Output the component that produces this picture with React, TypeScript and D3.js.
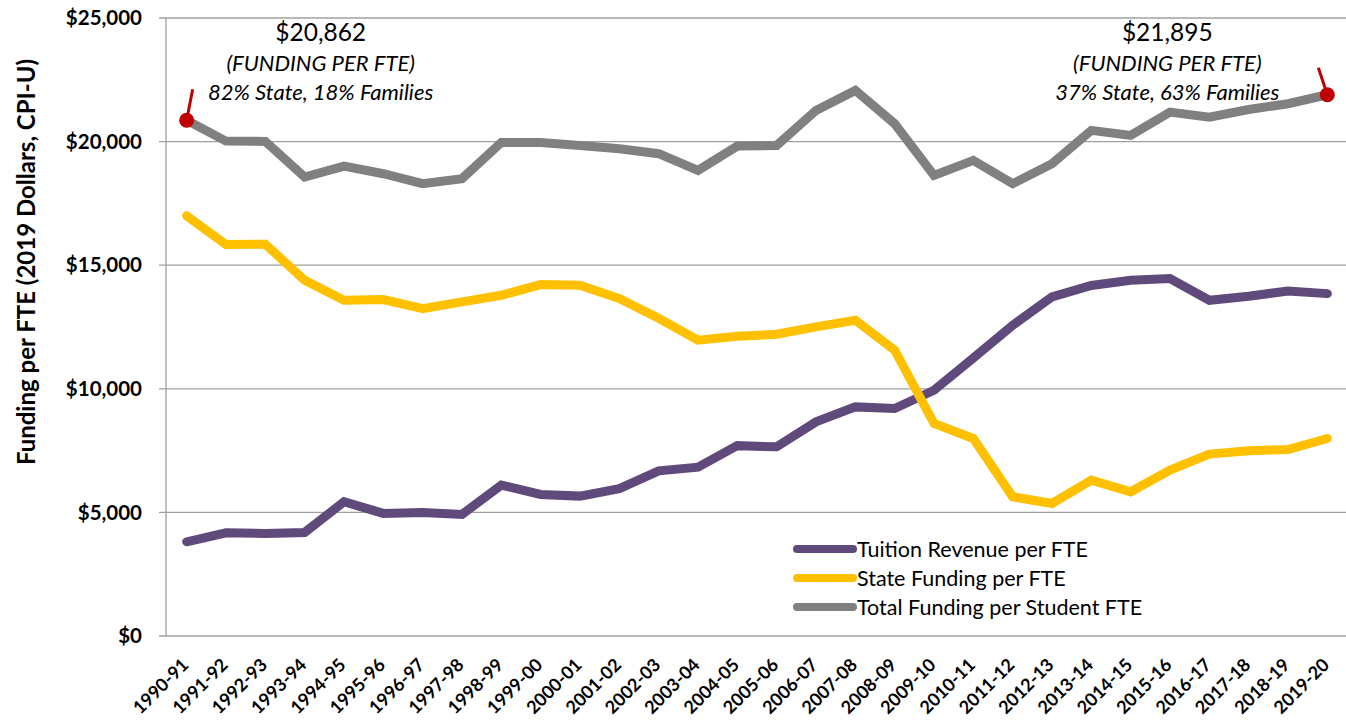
import React from 'react';
import { scaleLinear, scalePoint, line, format } from 'd3';

// school years on the x axis
const years = [
  '1990-91', '1991-92', '1992-93', '1993-94', '1994-95', '1995-96', '1996-97', '1997-98',
  '1998-99', '1999-00', '2000-01', '2001-02', '2002-03', '2003-04', '2004-05', '2005-06',
  '2006-07', '2007-08', '2008-09', '2009-10', '2010-11', '2011-12', '2012-13', '2013-14',
  '2014-15', '2015-16', '2016-17', '2017-18', '2018-19', '2019-20',
];

const tuition = [
  3812, 4176, 4150, 4190, 5430, 4960, 5000, 4920, 6103, 5727, 5659, 5960, 6680, 6831, 7700,
  7653, 8662, 9268, 9204, 9943, 11250, 12571, 13715, 14180, 14390, 14457, 13581, 13743, 13957, 13850,
];
const stateFunding = [
  17000, 15833, 15850, 14390, 13580, 13610, 13245, 13515, 13783, 14215, 14188, 13650, 12850, 11964,
  12126, 12207, 12503, 12773, 11560, 8597, 7990, 5632, 5363, 6305, 5834, 6710, 7357, 7490, 7545, 7990,
];
const total = [
  20862, 20020, 20008, 18565, 19010, 18700, 18298, 18500, 19968, 19968, 19846, 19713, 19510, 18836,
  19818, 19846, 21261, 22070, 20723, 18634, 19240, 18298, 19106, 20453, 20251, 21193, 20990, 21300,
  21532, 21895,
];

const yTicks = [0, 5000, 10000, 15000, 20000, 25000];

const seriesNames = ['Tuition Revenue per FTE', 'State Funding per FTE', 'Total Funding per Student FTE'];
const seriesColors = ['#604A7B', '#FFC000', '#808080'];

const FONT = 'Lato, "Open Sans", sans-serif';

export default function App() {
  const W = 1346;
  const H = 725;
  const left = 167;
  const right = 1347;
  const top = 18;
  const bottom = 636;

  const x = scalePoint<string>().domain(years).range([left, right]).padding(0.5);
  const y = scaleLinear().domain([0, 25000]).range([bottom, top]);
  const money = format('$,');

  const mkLine = line<number>()
    .x((d, i) => x(years[i]) as number)
    .y((d) => y(d));

  const series = [tuition, stateFunding, total];

  const firstX = x(years[0]) as number;
  const lastX = x(years[years.length - 1]) as number;
  const firstY = y(total[0]);
  const lastY = y(total[total.length - 1]);

  return (
    <>
      <style>{`body{margin:0}`}</style>
      <svg width={W} height={H} style={{ display: 'block', fontFamily: FONT }}>
        {/* gridlines + y ticks */}
        {yTicks.map((t) => (
          <g key={t}>
            <line x1={left - 8} x2={W} y1={y(t)} y2={y(t)} stroke="#A0A0A0" strokeWidth={1.3} />
            <text x={142} y={y(t)} dy="0.35em" textAnchor="end" fontWeight="bold" fontSize={20.5}>
              {money(t)}
            </text>
          </g>
        ))}
        <line x1={left - 1} x2={left - 1} y1={top} y2={bottom} stroke="#A0A0A0" strokeWidth={1.3} />

        {/* y title */}
        <text
          transform={`translate(35,262) rotate(-90)`}
          textAnchor="middle"
          fontWeight="bold"
          fontSize={24}
        >
          Funding per FTE (2019 Dollars, CPI-U)
        </text>

        {/* x labels */}
        {years.map((yr) => (
          <text
            key={yr}
            transform={`translate(${(x(yr) as number) + 3},${bottom + 30}) rotate(-45)`}
            textAnchor="end"
            fontWeight="bold"
            fontSize={18}
          >
            {yr}
          </text>
        ))}

        {/* lines */}
        {series.map((s, i) => (
          <path
            key={i}
            d={mkLine(s) || ''}
            fill="none"
            stroke={seriesColors[i]}
            strokeWidth={9}
            strokeLinejoin="miter"
            strokeLinecap="round"
          />
        ))}

        {/* red callouts */}
        <line x1={firstX} y1={firstY} x2={firstX + 6} y2={firstY - 31} stroke="#C00000" strokeWidth={3} />
        <circle cx={firstX} cy={firstY} r={7.5} fill="#C00000" />
        <line x1={lastX} y1={lastY} x2={lastX - 9} y2={lastY - 27} stroke="#C00000" strokeWidth={3} />
        <circle cx={lastX} cy={lastY} r={7.5} fill="#C00000" />

        {/* annotations */}
        <g textAnchor="middle" fill="#000">
          <text x={firstX + 134} y={41} fontSize={24.5}>{money(total[0])}</text>
          <text x={firstX + 134} y={71} fontSize={22} fontStyle="italic">(FUNDING PER FTE)</text>
          <text x={firstX + 134} y={100} fontSize={22} fontStyle="italic">82% State, 18% Families</text>
          <text x={lastX - 160} y={41} fontSize={24.5}>{money(total[total.length - 1])}</text>
          <text x={lastX - 160} y={71} fontSize={22} fontStyle="italic">(FUNDING PER FTE)</text>
          <text x={lastX - 160} y={100} fontSize={22} fontStyle="italic">37% State, 63% Families</text>
        </g>

        {/* legend */}
        {seriesNames.map((n, i) => (
          <g key={n} transform={`translate(797,${549 + i * 29})`}>
            <line x1={0} x2={56} y1={0} y2={0} stroke={seriesColors[i]} strokeWidth={8} strokeLinecap="round" />
            <text x={60} y={0} dy="0.36em" fontSize={21.5}>{n}</text>
          </g>
        ))}
      </svg>
    </>
  );
}
